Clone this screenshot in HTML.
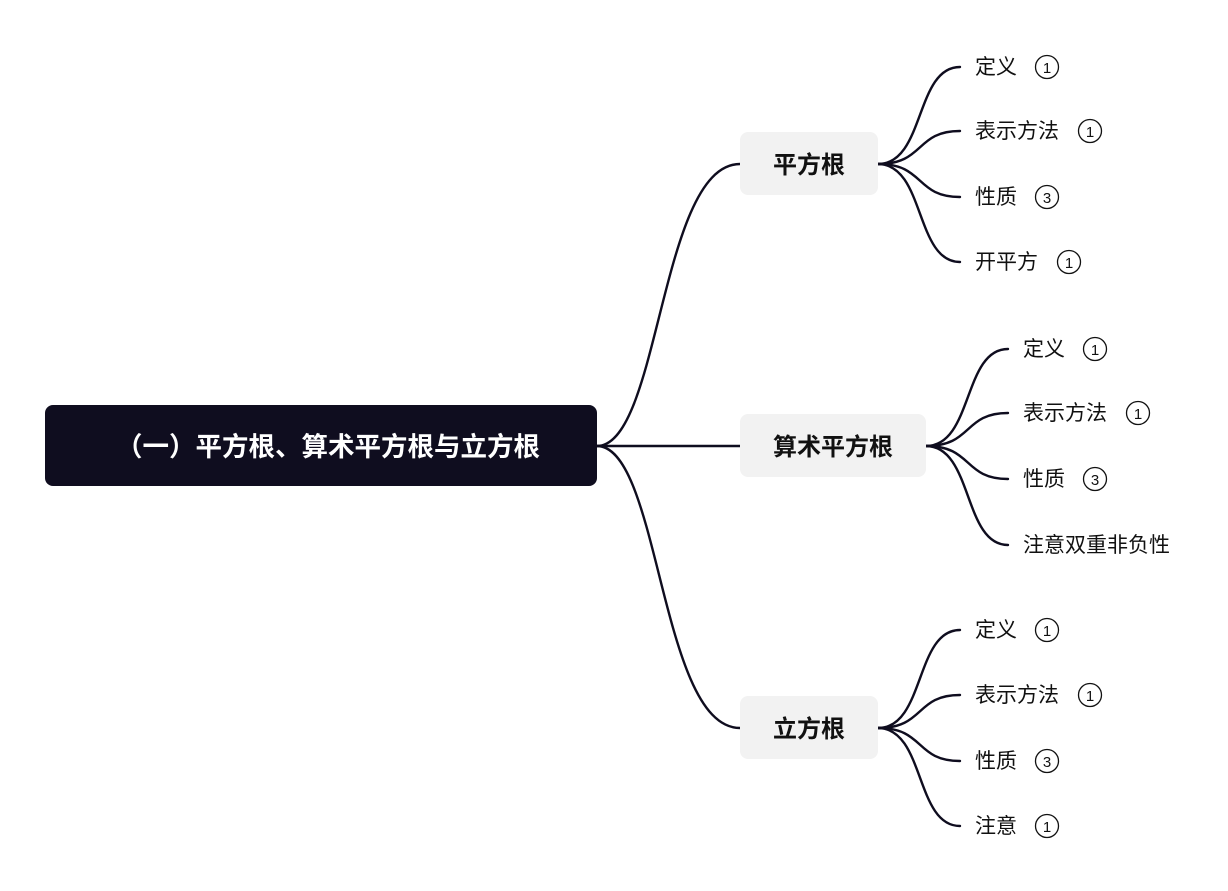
<!DOCTYPE html>
<html><head><meta charset="utf-8"><style>
body{margin:0;background:#fff;}
svg{display:block;font-family:"Liberation Sans","Noto Sans CJK SC",sans-serif;}
.l{font-size:21px;fill:#111;}
.n{font-size:15px;fill:#111;}
.b{font-size:24px;font-weight:bold;fill:#111;}
</style></head><body>
<svg width="1228" height="891" viewBox="0 0 1228 891" xmlns="http://www.w3.org/2000/svg">
<g fill="none" stroke="#0f0d1f" stroke-width="2.4" stroke-linecap="round">
<path d="M597 446 C660 446 660 164 740 164"/>
<path d="M597 446 L740 446"/>
<path d="M597 446 C660 446 660 728 740 728"/>
<path d="M878 164 C925 164 915 67 960 67"/>
<path d="M878 164 C925 164 915 131 960 131"/>
<path d="M878 164 C925 164 915 197 960 197"/>
<path d="M878 164 C925 164 915 262 960 262"/>
<path d="M926 446 C973 446 963 349 1008 349"/>
<path d="M926 446 C973 446 963 413 1008 413"/>
<path d="M926 446 C973 446 963 479 1008 479"/>
<path d="M926 446 C973 446 963 545 1008 545"/>
<path d="M878 728 C925 728 915 630 960 630"/>
<path d="M878 728 C925 728 915 695 960 695"/>
<path d="M878 728 C925 728 915 761 960 761"/>
<path d="M878 728 C925 728 915 826 960 826"/>
</g>
<rect x="45" y="405" width="552" height="81" rx="8" fill="#0f0d1f"/>
<text x="328" y="456" text-anchor="middle" font-size="26.5" font-weight="bold" fill="#fff">（一）平方根、算术平方根与立方根</text>
<rect x="740" y="132" width="138" height="63" rx="8" fill="#f2f2f2"/>
<text class="b" x="809" y="173" text-anchor="middle">平方根</text>
<rect x="740" y="414" width="186" height="63" rx="8" fill="#f2f2f2"/>
<text class="b" x="833" y="455" text-anchor="middle">算术平方根</text>
<rect x="740" y="696" width="138" height="63" rx="8" fill="#f2f2f2"/>
<text class="b" x="809" y="737" text-anchor="middle">立方根</text>
<g class="l">
<text x="975" y="74">定义</text><text x="975" y="138">表示方法</text><text x="975" y="204">性质</text><text x="975" y="269">开平方</text>
<text x="1023" y="356">定义</text><text x="1023" y="420">表示方法</text><text x="1023" y="486">性质</text><text x="1023" y="552">注意双重非负性</text>
<text x="975" y="637">定义</text><text x="975" y="702">表示方法</text><text x="975" y="768">性质</text><text x="975" y="833">注意</text>
</g>
<g fill="none" stroke="#111" stroke-width="1.3">
<circle cx="1047" cy="67" r="11.5"/><circle cx="1090" cy="131" r="11.5"/><circle cx="1047" cy="197" r="11.5"/><circle cx="1069" cy="262" r="11.5"/>
<circle cx="1095" cy="349" r="11.5"/><circle cx="1138" cy="413" r="11.5"/><circle cx="1095" cy="479" r="11.5"/>
<circle cx="1047" cy="630" r="11.5"/><circle cx="1090" cy="695" r="11.5"/><circle cx="1047" cy="761" r="11.5"/><circle cx="1047" cy="826" r="11.5"/>
</g>
<g class="n" text-anchor="middle">
<text x="1047" y="73">1</text><text x="1090" y="137">1</text><text x="1047" y="203">3</text><text x="1069" y="268">1</text>
<text x="1095" y="355">1</text><text x="1138" y="419">1</text><text x="1095" y="485">3</text>
<text x="1047" y="636">1</text><text x="1090" y="701">1</text><text x="1047" y="767">3</text><text x="1047" y="832">1</text>
</g>
</svg>
</body></html>
